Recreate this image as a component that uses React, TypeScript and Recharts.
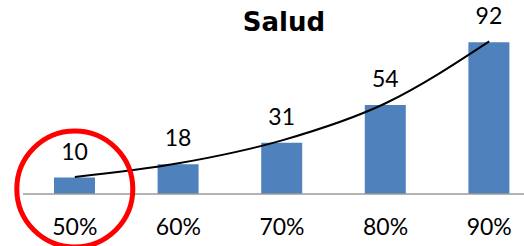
import { ComposedChart, Bar, Line, XAxis, YAxis, LabelList, ReferenceDot } from "recharts";

const categories = ["50%", "60%", "70%", "80%", "90%"];
const values = [10, 18, 31, 54, 92];
// trend line at each category
const trendValues = [10.3, 18.6, 32.5, 55, 92.5];
const title = "Salud";

const data = categories.map((c, i) => ({ cat: c, value: values[i], trend: trendValues[i] }));

const FONT = "Lato";

export default function App() {
  return (
    <div style={{ position: "absolute", top: 0, left: 0, width: 524, height: 246, overflow: "hidden", background: "#fff", fontFamily: FONT }}>
      <div
        style={{
          position: "absolute", top: 4, left: 0, width: 568, textAlign: "center",
          fontFamily: "'DejaVu Sans', sans-serif", fontWeight: "bold", fontSize: 26, color: "#000",
          lineHeight: "36px",
        }}
      >
        {title}
      </div>
      <ComposedChart width={541} height={246} data={data} margin={{ top: 29, right: 0, left: 23, bottom: 0 }}>
        <XAxis dataKey="cat" height={52} tickLine={false} tickSize={0} tickMargin={25}
          axisLine={{ stroke: "#9a9a9a", strokeWidth: 1.5 }}
          tick={{ fill: "#000", fontSize: 23 }} />
        <YAxis hide domain={[0, 100]} />
        <Bar dataKey="value" fill="#4F81BD" barSize={41} isAnimationActive={false}>
          <LabelList dataKey="value" position="top" offset={18} fill="#000" fontSize={23} />
        </Bar>
        <Line dataKey="trend" type="monotone" stroke="#000" strokeWidth={2} dot={false}
          activeDot={false} isAnimationActive={false} />
        <ReferenceDot x="50%" y={3} r={58} fill="none" stroke="#FF0000" strokeWidth={5} />
      </ComposedChart>
    </div>
  );
}
